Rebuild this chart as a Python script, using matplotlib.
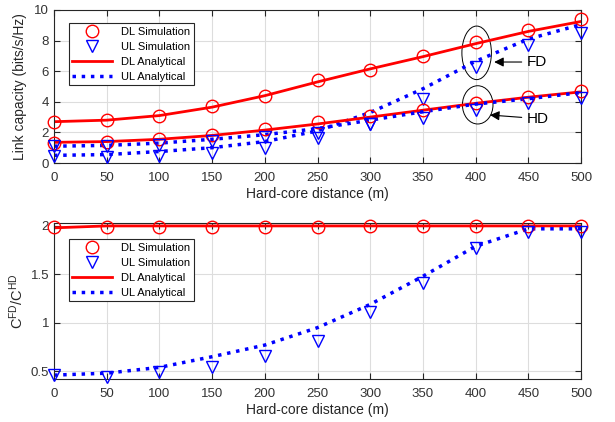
import numpy as np
import matplotlib
matplotlib.use('Agg')
import matplotlib.pyplot as plt
from matplotlib.patches import Ellipse

plt.rcParams['font.family'] = ['Liberation Sans', 'DejaVu Sans']
plt.rcParams['mathtext.fontset'] = 'custom'
plt.rcParams['mathtext.rm'] = 'Liberation Sans'
plt.rcParams['mathtext.it'] = 'Liberation Sans'
plt.rcParams['mathtext.default'] = 'regular'

# hard-core distance (m)
dist = [0, 50, 100, 150, 200, 250, 300, 350, 400, 450, 500]

# link capacity, full duplex
fd_dl_sim = [2.7, 2.8, 3.1, 3.7, 4.4, 5.4, 6.05, 7.0, 7.9, 8.7, 9.4]
fd_dl_ana = [2.7, 2.8, 3.1, 3.65, 4.4, 5.3, 6.15, 6.95, 7.8, 8.6, 9.25]
fd_ul_sim = [0.45, 0.4, 0.45, 0.65, 0.95, 1.65, 2.55, 4.2, 6.3, 7.7, 8.5]
fd_ul_ana = [0.5, 0.55, 0.75, 1.0, 1.4, 2.1, 3.3, 4.85, 6.65, 8.1, 9.05]
# link capacity, half duplex
hd_dl_sim = [1.3, 1.4, 1.55, 1.83, 2.2, 2.65, 3.05, 3.45, 3.95, 4.33, 4.73]
hd_dl_ana = [1.35, 1.4, 1.55, 1.8, 2.15, 2.55, 3.0, 3.45, 3.9, 4.3, 4.65]
hd_ul_sim = [1.1, 1.1, 1.2, 1.45, 1.7, 1.98, 2.55, 2.95, 3.45, 3.9, 4.25]
hd_ul_ana = [1.1, 1.15, 1.3, 1.55, 1.85, 2.25, 2.8, 3.35, 3.85, 4.2, 4.6]

# FD / HD ratio
ratio_dl_sim = [1.99, 1.99, 1.99, 1.99, 1.99, 1.99, 2.0, 2.0, 2.0, 2.0, 2.0]
ratio_dl_ana = [1.98, 2.0, 2.0, 2.0, 2.0, 2.0, 2.0, 2.0, 2.0, 2.0, 2.0]
ratio_ul_sim = [0.46, 0.44, 0.49, 0.54, 0.66, 0.81, 1.11, 1.41, 1.77, 1.94, 1.94]
ratio_ul_ana = [0.46, 0.48, 0.54, 0.65, 0.77, 0.95, 1.19, 1.48, 1.79, 1.97, 1.97]

xticks = list(range(0, 501, 50))
labels = ['DL Simulation', 'UL Simulation', 'DL Analytical', 'UL Analytical']

fig = plt.figure(figsize=(6.15, 4.22), dpi=100)
ax1 = fig.add_axes([54 / 615, 1 - 163 / 422, 527 / 615, 153 / 422])
ax2 = fig.add_axes([54 / 615, 1 - 379 / 422, 527 / 615, 156 / 422])


def style(ax):
    ax.grid(True, color='#dddddd', linewidth=0.8)
    ax.set_axisbelow(True)
    ax.tick_params(direction='in', top=True, right=True, labelsize=9.5,
                   colors='#262626', length=4, labelcolor='#333333')
    ax.tick_params(axis='x', pad=6.5)
    ax.tick_params(axis='y', pad=3.5)
    for s in ax.spines.values():
        s.set_color('#262626')
        s.set_linewidth(0.8)
    ax.set_xlim(0, 500)
    ax.set_xticks(xticks)
    ax.set_xlabel('Hard-core distance (m)', fontsize=10, color='#262626', labelpad=2)


mk = dict(markersize=9, markerfacecolor='none', linestyle='none',
          markeredgewidth=1, clip_on=False, zorder=4)

# top panel
ax1.plot(dist, fd_dl_sim, 'o', color='red', label=labels[0], **mk)
ax1.plot(dist, fd_ul_sim, 'v', color='blue', label=labels[1], **mk)
ax1.plot(dist, fd_dl_ana, '-', color='red', linewidth=2, label=labels[2])
ax1.plot(dist, fd_ul_ana, ':', color='blue', linewidth=2.5, label=labels[3])
ax1.plot(dist, hd_dl_sim, 'o', color='red', **mk)
ax1.plot(dist, hd_ul_sim, 'v', color='blue', **mk)
ax1.plot(dist, hd_dl_ana, '-', color='red', linewidth=2)
ax1.plot(dist, hd_ul_ana, ':', color='blue', linewidth=2.5)
ax1.set_ylim(0, 10)
ax1.set_yticks([0, 2, 4, 6, 8, 10])
style(ax1)
ax1.set_ylabel('Link capacity (bits/s/Hz)', fontsize=10, color='#262626', labelpad=5)
ax1.add_patch(Ellipse((401, 7.2), 28, 3.5, fill=False, edgecolor='black', linewidth=0.7))
ax1.add_patch(Ellipse((402, 3.8), 29, 2.5, fill=False, edgecolor='black', linewidth=0.7))
ax1.annotate('FD', xy=(415, 6.6), xytext=(449, 6.6), fontsize=11, va='center',
             arrowprops=dict(arrowstyle='-|>', color='black', lw=0.8, mutation_scale=14))
ax1.annotate('HD', xy=(411, 3.15), xytext=(449, 2.9), fontsize=11, va='center',
             arrowprops=dict(arrowstyle='-|>', color='black', lw=0.8, mutation_scale=14))
leg1 = ax1.legend(loc='upper left', bbox_to_anchor=(0.018, 0.95), fontsize=8,
                  fancybox=False, edgecolor='#262626', framealpha=1,
                  handlelength=3.6, labelspacing=0.45, borderpad=0.3)
leg1.get_frame().set_linewidth(0.8)

# bottom panel
ax2.plot(dist, ratio_dl_sim, 'o', color='red', label=labels[0], **mk)
ax2.plot(dist, ratio_ul_sim, 'v', color='blue', label=labels[1], **mk)
ax2.plot(dist, ratio_dl_ana, '-', color='red', linewidth=2, label=labels[2])
ax2.plot(dist, ratio_ul_ana, ':', color='blue', linewidth=2.5, label=labels[3])
ax2.set_ylim(0.42, 2.03)
ax2.set_yticks([0.5, 1, 1.5, 2])
ax2.set_yticklabels(['0.5', '1', '1.5', '2'])
style(ax2)
ax2.set_ylabel(r'$C^{FD}/C^{HD}$', fontsize=10.5, color='#262626', labelpad=3)
leg2 = ax2.legend(loc='upper left', bbox_to_anchor=(0.018, 0.93), fontsize=8,
                  fancybox=False, edgecolor='#262626', framealpha=1,
                  handlelength=3.6, labelspacing=0.45, borderpad=0.3)
leg2.get_frame().set_linewidth(0.8)

fig.savefig('out.png', dpi=100)
